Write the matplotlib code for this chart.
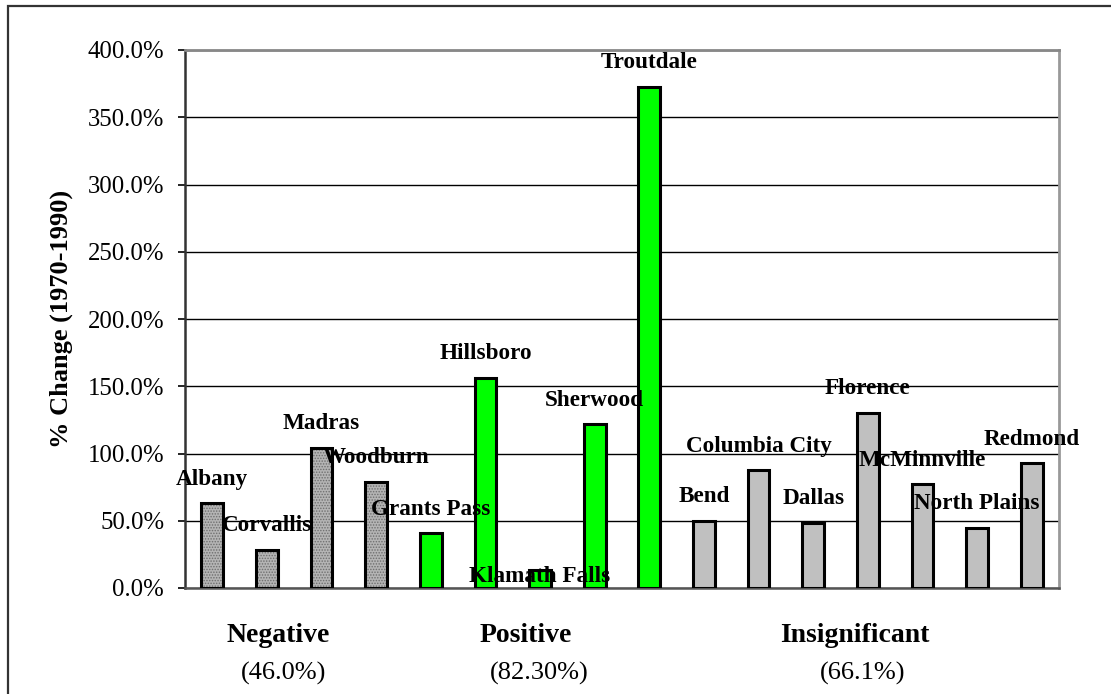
import matplotlib
matplotlib.use("Agg")
import matplotlib.pyplot as plt
from matplotlib.patches import Rectangle
import numpy as np

# ---- data ----
cities = ["Albany", "Corvallis", "Madras", "Woodburn",
          "Grants Pass", "Hillsboro", "Klamath Falls", "Sherwood", "Troutdale",
          "Bend", "Columbia City", "Dallas", "Florence", "McMinnville",
          "North Plains", "Redmond"]
values = [63.0, 28.3, 104.3, 79.0,
          40.6, 156.4, 13.5, 121.7, 372.5,
          49.8, 87.7, 48.6, 130.4, 77.1, 44.9, 92.7]
groups = ["neg"] * 4 + ["pos"] * 5 + ["ins"] * 7
group_names = ["Negative", "Positive", "Insignificant"]
group_means = ["(46.0%)", "(82.30%)", "(66.1%)"]
yticks = [0, 50, 100, 150, 200, 250, 300, 350, 400]

plt.rcParams['font.family'] = ['Liberation Serif', 'DejaVu Serif']
plt.rcParams['hatch.linewidth'] = 0.7

W, H = 1111, 694
fig = plt.figure(figsize=(W / 100, H / 100), dpi=100)
ax = fig.add_axes([185 / W, 1 - 588 / H, (1059 - 185) / W, (588 - 50) / H])

x = np.arange(len(cities))
colors = {"neg": "#b0b0b0", "pos": "#00ff00", "ins": "#c0c0c0"}
bw = 0.40
for xi, v, g in zip(x, values, groups):
    if g == "neg":
        ax.bar(xi, v, width=bw, color="#b4b4b4", edgecolor="#6e6e6e",
               hatch="......", linewidth=0, zorder=3)
        ax.bar(xi, v, width=bw, fill=False, edgecolor="black",
               linewidth=2.2, zorder=4)
    else:
        ax.bar(xi, v, width=bw, color=colors[g], edgecolor="black",
               linewidth=2.2, zorder=3)

# data labels
for xi, v, name in zip(x, values, cities):
    off = -4.5 if name == "Klamath Falls" else 17.3
    ax.annotate(name, (xi, v), xytext=(0, off), textcoords="offset points",
                ha="center", va="center", fontsize=16.7, fontweight="bold",
                zorder=5)

ax.set_xlim(-0.5, len(cities) - 0.5)
ax.set_ylim(0, 400)
ax.set_yticks(yticks)
ax.set_yticklabels([f"{t:.1f}%" for t in yticks], fontsize=17.8)
ax.set_xticks([])
ax.tick_params(axis="y", direction="out", length=5, width=1.2, colors="black",
               pad=10)
ax.yaxis.grid(True, color="black", linewidth=1.0, zorder=0)
ax.set_axisbelow(True)
ax.spines["left"].set_color("#333333")
ax.spines["left"].set_linewidth(1.8)
ax.spines["bottom"].set_color("#555555")
ax.spines["bottom"].set_linewidth(1.8)
ax.spines["top"].set_color("#888888")
ax.spines["top"].set_linewidth(2.0)
ax.spines["right"].set_color("#999999")
ax.spines["right"].set_linewidth(2.0)

ax.set_ylabel("% Change (1970-1990)", fontsize=19, fontweight="bold")
ax.yaxis.set_label_coords(-0.128, 0.5)

# group labels
gx = [278, 526, 855]
mx = [284, 539, 863]
for name, mean, a, b in zip(group_names, group_means, gx, mx):
    fig.text(a / W, 1 - 635 / H, name, ha="center", va="center",
             fontsize=20, fontweight="bold")
    fig.text(b / W, 1 - 673 / H, mean, ha="center", va="center", fontsize=19)

# outer border
fig.patches.append(Rectangle((8 / W, -0.1), 1.2, 1 - 6 / H + 0.1,
                             transform=fig.transFigure, fill=False,
                             edgecolor="#333333", linewidth=1.6))

fig.savefig("out.png", dpi=100)
